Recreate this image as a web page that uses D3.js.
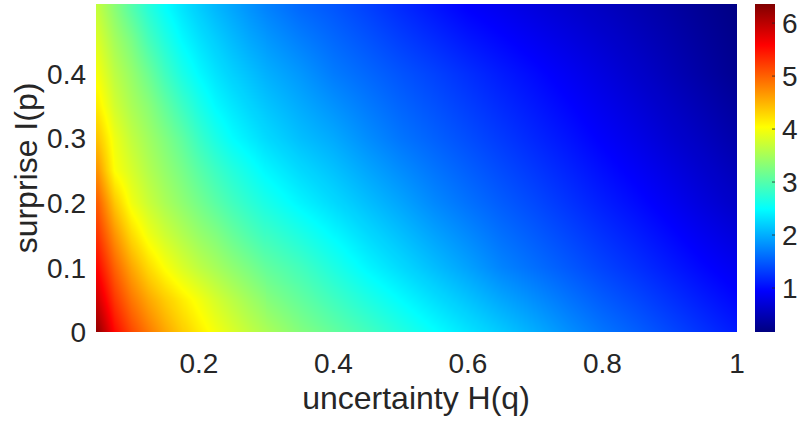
<!DOCTYPE html>
<html>
  <head>
    <meta charset="utf-8">
    <script src="https://d3js.org/d3.v7.min.js"></script>
    <style>
      body { margin: 0; background: #fff; }
      text { font-family: "Liberation Sans", Arial, Helvetica, sans-serif; fill: #262626; }
    </style>
  </head>
  <body>
    <script>
      // values
      // left part (steep): H(q) 0.05..0.30 by 0.025, I(p) 0..0.5 by 0.05
      var hqLeft = [0.05, 0.075, 0.10, 0.125, 0.15, 0.175, 0.20, 0.225, 0.25, 0.275, 0.30];
      var ipLeft = [0, 0.05, 0.10, 0.15, 0.20, 0.25, 0.30, 0.35, 0.40, 0.45, 0.50];

      var lrow00 = [6.23, 5.54, 5.15, 4.85, 4.58, 4.35, 4.15, 3.97, 3.81, 3.66, 3.53];
      var lrow05 = [5.86, 5.26, 4.87, 4.58, 4.35, 4.15, 3.97, 3.78, 3.62, 3.47, 3.33];
      var lrow10 = [5.54, 4.99, 4.58, 4.26, 4.01, 3.81, 3.64, 3.50, 3.36, 3.23, 3.09];
      var lrow15 = [5.26, 4.70, 4.26, 3.95, 3.74, 3.57, 3.41, 3.28, 3.12, 2.98, 2.85];
      var lrow20 = [5.01, 4.38, 3.95, 3.71, 3.52, 3.36, 3.20, 3.04, 2.89, 2.76, 2.64];
      var lrow25 = [4.68, 4.02, 3.79, 3.57, 3.39, 3.22, 3.03, 2.86, 2.71, 2.58, 2.45];
      var lrow30 = [4.39, 3.93, 3.66, 3.46, 3.27, 3.07, 2.84, 2.65, 2.49, 2.38, 2.27];
      var lrow35 = [4.14, 3.76, 3.52, 3.33, 3.09, 2.86, 2.65, 2.47, 2.35, 2.24, 2.14];
      var lrow40 = [3.97, 3.63, 3.40, 3.15, 2.88, 2.65, 2.47, 2.33, 2.21, 2.11, 2.01];
      var lrow45 = [3.82, 3.49, 3.24, 2.93, 2.69, 2.48, 2.33, 2.20, 2.08, 1.97, 1.88];
      var lrow50 = [3.67, 3.33, 3.01, 2.73, 2.51, 2.34, 2.19, 2.06, 1.95, 1.84, 1.74];

      // right part (smooth): H(q) 0.30..1 by 0.05, I(p) 0..0.5 by 0.1
      var hqRight = [0.30, 0.35, 0.40, 0.45, 0.50, 0.55, 0.60, 0.65, 0.70, 0.75,
                     0.80, 0.85, 0.90, 0.95, 1.00];
      var ipRight = [0, 0.1, 0.2, 0.3, 0.4, 0.5];

      var rrow0 = [3.53, 3.29, 3.09, 2.90, 2.70, 2.51, 2.33, 2.16, 1.99, 1.81, 1.65, 1.52, 1.38, 1.24, 1.10];
      var rrow1 = [3.09, 2.90, 2.67, 2.45, 2.27, 2.09, 1.92, 1.74, 1.61, 1.48, 1.35, 1.23, 1.10, 0.97, 0.85];
      var rrow2 = [2.64, 2.44, 2.27, 2.10, 1.94, 1.77, 1.63, 1.50, 1.38, 1.25, 1.12, 1.00, 0.87, 0.73, 0.60];
      var rrow3 = [2.27, 2.10, 1.97, 1.80, 1.65, 1.53, 1.41, 1.29, 1.17, 1.05, 0.92, 0.80, 0.67, 0.55, 0.42];
      var rrow4 = [2.01, 1.86, 1.69, 1.57, 1.45, 1.34, 1.22, 1.10, 0.99, 0.87, 0.75, 0.63, 0.51, 0.39, 0.27];
      var rrow5 = [1.74, 1.58, 1.47, 1.34, 1.20, 1.07, 0.94, 0.85, 0.75, 0.66, 0.57, 0.48, 0.39, 0.29, 0.20];

      var xTicks = [0.2, 0.4, 0.6, 0.8, 1];
      var yTicks = [0, 0.1, 0.2, 0.3, 0.4];
      var cTicks = [1, 2, 3, 4, 5, 6];
      var cRange = [0.17, 6.36];

      // smooth shading between grid nodes (like shading interp)
      function gridValue(xs, ys, rows, xv, yv) {
        xv = Math.max(xs[0], Math.min(xs[xs.length - 1], xv));
        yv = Math.max(ys[0], Math.min(ys[ys.length - 1], yv));
        var i = Math.max(0, Math.min(d3.bisectRight(xs, xv) - 1, xs.length - 2));
        var j = Math.max(0, Math.min(d3.bisectRight(ys, yv) - 1, ys.length - 2));
        var tx = (xv - xs[i]) / (xs[i + 1] - xs[i]);
        var ty = (yv - ys[j]) / (ys[j + 1] - ys[j]);
        return rows[j][i] * (1 - tx) * (1 - ty) + rows[j][i + 1] * tx * (1 - ty) +
               rows[j + 1][i] * (1 - tx) * ty + rows[j + 1][i + 1] * tx * ty;
      }

      function draw() {
        var leftRows = [lrow00, lrow05, lrow10, lrow15, lrow20, lrow25,
                        lrow30, lrow35, lrow40, lrow45, lrow50];
        var rightRows = [rrow0, rrow1, rrow2, rrow3, rrow4, rrow5];

        var width = 799, height = 421;
        var pl = 96, pr = 737, pt = 4, pb = 332;
        var cbX = 755, cbW = 20;

        var svg = d3.select("body").append("svg")
            .attr("width", width)
            .attr("height", height);
        var defs = svg.append("defs");

        var x = d3.scaleLinear().domain([0.047, 1]).range([pl, pr]);
        var y = d3.scaleLinear().domain([0, 0.508]).range([pb, pt]);

        // jet colormap
        var jetT = [0, 0.125, 0.375, 0.625, 0.875, 1];
        var jetC = ["#000080", "#0000ff", "#00ffff", "#ffff00", "#ff0000", "#800000"];
        var color = d3.scaleLinear()
            .domain(jetT.map(function (t) { return cRange[0] + t * (cRange[1] - cRange[0]); }))
            .range(jetC)
            .interpolate(d3.interpolateRgb)
            .clamp(true);

        // lookup table so the pixel loop stays quick
        var lut = d3.range(1024).map(function (k) {
          return d3.rgb(color(cRange[0] + k / 1023 * (cRange[1] - cRange[0])));
        });

        var w = pr - pl, h = pb - pt;
        var cv = document.createElement("canvas");
        cv.width = w;
        cv.height = h;
        var ctx = cv.getContext("2d");
        var img = ctx.createImageData(w, h);
        for (var py = 0; py < h; py++) {
          var yv = y.invert(pt + py + 0.5);
          for (var px = 0; px < w; px++) {
            var xv = x.invert(pl + px + 0.5);
            var v = xv <= hqRight[0]
                ? gridValue(hqLeft, ipLeft, leftRows, xv, yv)
                : gridValue(hqRight, ipRight, rightRows, xv, yv);
            var k = Math.round((v - cRange[0]) / (cRange[1] - cRange[0]) * 1023);
            var col = lut[Math.max(0, Math.min(1023, k))];
            var o = (py * w + px) * 4;
            img.data[o] = col.r;
            img.data[o + 1] = col.g;
            img.data[o + 2] = col.b;
            img.data[o + 3] = 255;
          }
        }
        ctx.putImageData(img, 0, 0);

        svg.append("image")
            .attr("href", cv.toDataURL())
            .attr("x", pl).attr("y", pt)
            .attr("width", w).attr("height", h);

        // x tick labels
        svg.selectAll(".xtick")
            .data(xTicks)
          .enter().append("text")
            .attr("x", function (d) { return x(d); })
            .attr("y", 373)
            .attr("text-anchor", "middle")
            .style("font-size", "28px")
            .text(function (d) { return d; });

        // y tick labels
        svg.selectAll(".ytick")
            .data(yTicks)
          .enter().append("text")
            .attr("x", 86)
            .attr("y", function (d) { return y(d); })
            .attr("dy", "0.36em")
            .attr("text-anchor", "end")
            .style("font-size", "28px")
            .text(function (d) { return d; });

        svg.append("text")
            .attr("x", 416)
            .attr("y", 409)
            .attr("text-anchor", "middle")
            .style("font-size", "32px")
            .text("uncertainty H(q)");

        svg.append("text")
            .attr("transform", "translate(37,168) rotate(-90)")
            .attr("text-anchor", "middle")
            .style("font-size", "32px")
            .text("surprise I(p)");

        // colorbar
        var c = d3.scaleLinear().domain(cRange).range([pb, pt]);
        var grad = defs.append("linearGradient")
            .attr("id", "jet")
            .attr("x1", 0).attr("y1", 1).attr("x2", 0).attr("y2", 0);
        grad.selectAll("stop")
            .data(jetT)
          .enter().append("stop")
            .attr("offset", function (d) { return d; })
            .attr("stop-color", function (d, i) { return jetC[i]; });

        svg.append("rect")
            .attr("x", cbX).attr("y", pt)
            .attr("width", cbW).attr("height", pb - pt)
            .style("fill", "url(#jet)");

        svg.selectAll(".cbtick")
            .data(cTicks)
          .enter().append("line")
            .attr("x1", cbX + cbW - 3).attr("x2", cbX + cbW)
            .attr("y1", function (d) { return c(d); })
            .attr("y2", function (d) { return c(d); })
            .style("stroke", "#262626")
            .style("stroke-width", 0.8);

        svg.selectAll(".cblabel")
            .data(cTicks)
          .enter().append("text")
            .attr("x", 782)
            .attr("y", function (d) { return c(d); })
            .attr("dy", "0.36em")
            .style("font-size", "28px")
            .text(function (d) { return d; });
      }

      draw();
    </script>
  </body>
</html>
